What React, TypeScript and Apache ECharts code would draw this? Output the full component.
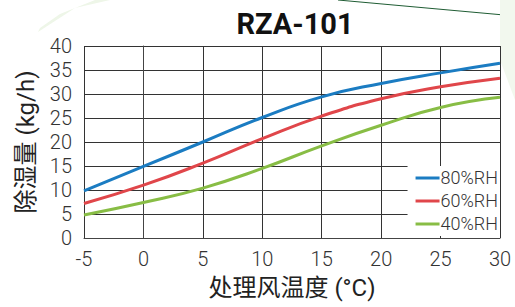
import React, { useEffect, useRef } from "react";
import * as echarts from "echarts";

const temps = [-5, 0, 5, 10, 15, 20, 25, 30];
const rh80 = [9.8, 14.9, 20.0, 25.1, 29.4, 32.2, 34.4, 36.4];
const rh60 = [7.2, 11.0, 15.6, 20.7, 25.4, 29.0, 31.5, 33.3];
const rh40 = [4.8, 7.4, 10.4, 14.5, 19.2, 23.5, 27.2, 29.3];
const seriesNames = ["80%RH", "60%RH", "40%RH"];
const seriesColors = ["#1b7cc2", "#e0464a", "#88bd45"];

export default function App() {
  const ref = useRef<HTMLDivElement>(null);
  useEffect(() => {
    if (!ref.current) return;
    const chart = echarts.init(ref.current, null, { renderer: "svg" });
    const datasets = [rh80, rh60, rh40];
    const font = "Roboto, 'Noto Sans CJK SC', sans-serif";
    chart.setOption({
      animation: false,
      backgroundColor: "#ffffff",
      title: {
        text: "RZA-101",
        left: 290,
        top: 4,
        textAlign: "center",
        textStyle: { fontFamily: "Roboto", fontWeight: "bold", fontSize: 29, color: "#111" },
      },
      graphic: [
        { type: "line", shape: { x1: 338, y1: 0, x2: 515, y2: 16 }, style: { stroke: "#1f5c33", lineWidth: 1 }, silent: true },
        { type: "polygon", shape: { points: [[38, 32], [75, 8], [110, 0], [95, 0], [60, 14], [40, 28]] }, style: { fill: "#eef6e8" }, silent: true },
        { type: "polygon", shape: { points: [[500, 0], [515, 0], [515, 100], [500, 60]] }, style: { fill: "#f2f8ee" }, silent: true },
      ],
      legend: {
        data: seriesNames,
        orient: "vertical",
        right: 15,
        top: 166,
        backgroundColor: "#ffffff",
        padding: [3, 2, 3, 8],
        itemGap: 5,
        itemWidth: 24,
        itemHeight: 3,
        icon: "rect",
        textStyle: { fontFamily: font, fontSize: 18, fontWeight: 300, color: "#333", padding: [0, 0, 0, -4] },
      },
      grid: { left: 84, right: 15, top: 46, bottom: 69 },
      xAxis: {
        type: "value",
        min: -5,
        max: 30,
        interval: 5,
        name: "处理风温度 (°C)",
        nameLocation: "middle",
        nameGap: 38,
        nameTextStyle: { fontFamily: font, fontSize: 24, color: "#222" },
        axisLine: { show: true, lineStyle: { color: "#444", width: 1 } },
        axisTick: { show: false },
        axisLabel: { margin: 11, fontFamily: font, fontSize: 20, fontWeight: 300, color: "#333" },
        splitLine: { show: true, lineStyle: { color: "#333", width: 1 } },
      },
      yAxis: {
        type: "value",
        min: 0,
        max: 40,
        interval: 5,
        name: "除湿量 (kg/h)",
        nameLocation: "middle",
        nameGap: 46,
        nameRotate: 90,
        nameTextStyle: { fontFamily: font, fontSize: 24, color: "#222" },
        axisLine: { show: true, lineStyle: { color: "#444", width: 1 } },
        axisTick: { show: false },
        axisLabel: { margin: 12, fontFamily: font, fontSize: 20, fontWeight: 300, color: "#333" },
        splitLine: { show: true, lineStyle: { color: "#333", width: 1 } },
      },
      series: datasets.map((d, i) => ({
        name: seriesNames[i],
        type: "line",
        smooth: true,
        symbol: "none",
        data: temps.map((t, j) => [t, d[j]]),
        lineStyle: { color: seriesColors[i], width: 3 },
        itemStyle: { color: seriesColors[i] },
        z: 3,
      })),
    });
    return () => chart.dispose();
  }, []);
  return <div ref={ref} style={{ width: 515, height: 307, position: "absolute", left: 0, top: 0 }} />;
}
